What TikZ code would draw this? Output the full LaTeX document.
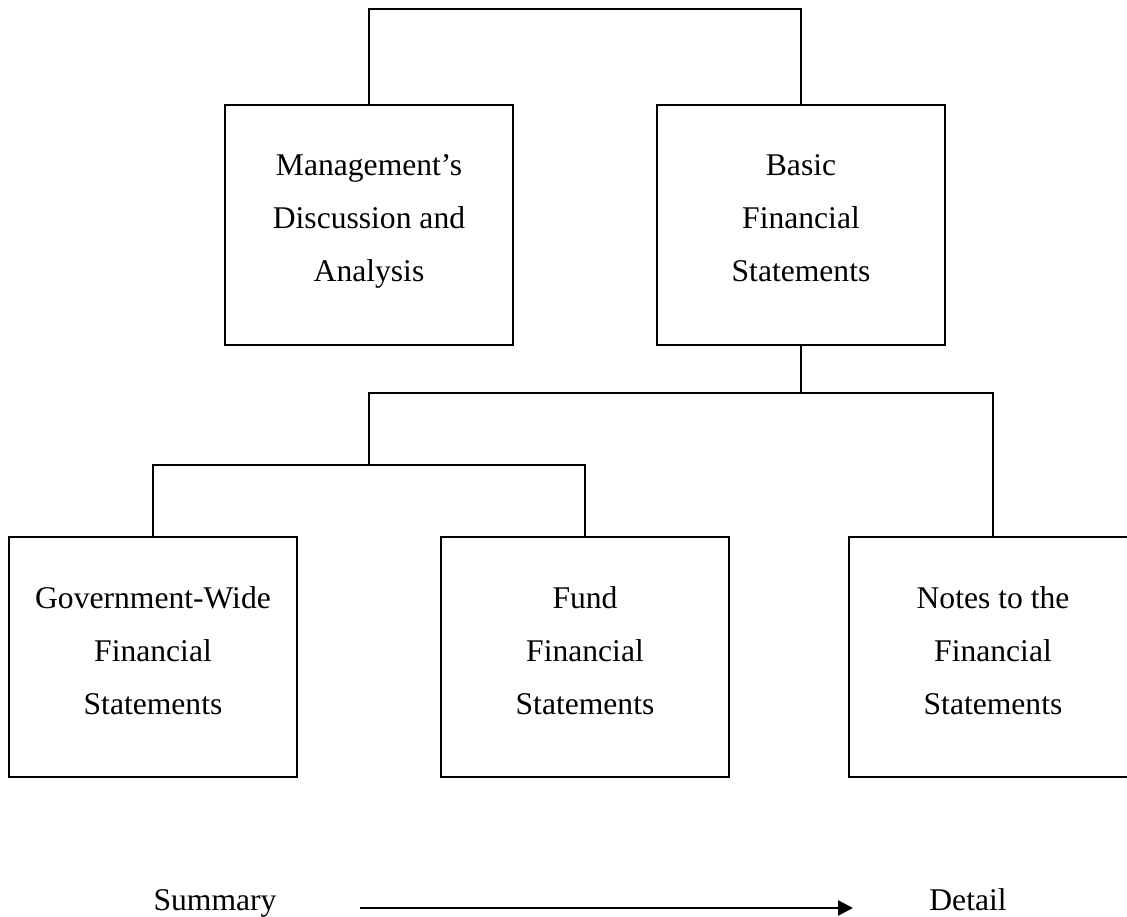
\documentclass[tikz,border=0pt]{standalone}
\usepackage{fontspec}
\setmainfont{Liberation Serif}
\usetikzlibrary{arrows.meta}
\tikzset{
  box/.style={draw=black, line width=1.5pt, minimum width=288pt, minimum height=240pt,
    inner sep=0pt, align=center, font=\fontsize{31.6}{53}\selectfont},
  conn/.style={draw=black, line width=1.5pt},
  lbl/.style={inner sep=0pt, anchor=base, font=\fontsize{31.6}{38}\selectfont},
  bigarrow/.style={draw=black, line width=2.5pt, -{Triangle[length=15pt,width=15pt]}}
}
\newcommand{\lastdepth}{\rule[-13.6pt]{0pt}{13.6pt}}
\begin{document}
\begin{tikzpicture}[x=1pt,y=1pt]
\useasboundingbox (0,0) rectangle (1127,-916);
\clip (0,0) rectangle (1127,-916);
\fill[white] (0,0) rectangle (1127,-916);

\node[box] (b1) at (369,-225) {Management's\\Discussion and\\Analysis\lastdepth};
\node[box] (b2) at (801,-225) {Basic\\Financial\\Statements\lastdepth};
\node[box] (b3) at (153,-657) {Government-Wide\\Financial\\Statements\lastdepth};
\node[box] (b4) at (585,-657) {Fund\\Financial\\Statements\lastdepth};
\node[box] (b5) at (993,-657) {Notes to the\\Financial\\Statements\lastdepth};

\coordinate (top) at (585,-9);
\coordinate (j1) at (801,-393);
\coordinate (m1) at (369,-465);

\draw[conn] (b1.north) |- (top) -| (b2.north);
\draw[conn] (b2.south) -- (j1);
\draw[conn] (m1) |- (j1) -| (b5.north);
\draw[conn] (b3.north) |- (m1) -| (b4.north);

\node[lbl] (sum) at (215,-910) {Summary};
\node[lbl] (det) at (968,-910) {Detail};
\coordinate (as) at (360,-908);
\coordinate (ae) at (853,-908);
\draw[bigarrow] (as) -- (ae);
\end{tikzpicture}
\end{document}
